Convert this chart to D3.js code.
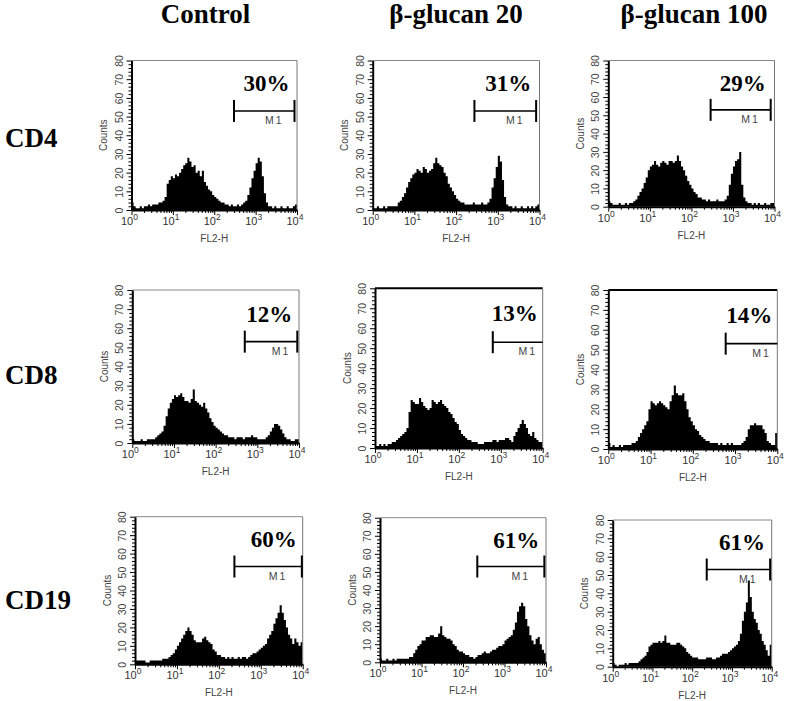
<!DOCTYPE html>
<html>
<head>
<meta charset="utf-8">
<script src="https://cdn.jsdelivr.net/npm/d3@7"></script>
<style>
  html, body { margin: 0; padding: 0; background: #fff; }
  svg { display: block; }
</style>
</head>
<body>
<svg id="chart" width="788" height="701"></svg>
<script>
// ---------------- DATA ----------------
const groups = ["Control", "β-glucan 20", "β-glucan 100"];
const markers = ["CD4", "CD8", "CD19"];
const xTickValues = [1, 10, 100, 1000, 10000];
const yTickValues = [0, 10, 20, 30, 40, 50, 60, 70, 80];
const binStepLog = 0.05; // decades per histogram channel (80 channels over 10^0..10^4)

// Counts per channel
const cd4Control = [
  4,2,1,1,2,1,2,2,3,2,
  3,3,3,4,4,5,7,14,16,18,
  17,19,18,20,22,24,25,28,26,23,
  24,20,21,18,21,15,13,11,10,8,
  7,6,5,4,4,3,3,2,3,2,
  2,3,2,3,4,5,8,12,17,21,
  25,28,26,18,9,4,2,2,1,2,
  1,1,2,1,1,2,1,1,2,3];
const cd4Glucan20 = [
  1,1,2,1,1,2,1,2,2,2,
  2,2,4,5,7,9,12,15,17,19,
  20,22,21,20,23,22,20,21,22,25,
  28,25,24,23,20,18,14,12,10,8,
  6,5,4,4,3,3,3,3,4,3,
  3,3,4,3,3,4,6,12,17,23,
  29,26,16,7,3,2,2,1,2,1,
  1,2,1,1,2,1,2,1,2,3];
const cd4Glucan100 = [
  3,2,1,1,1,2,1,1,2,1,
  2,2,3,4,6,8,10,13,16,20,
  22,23,25,23,22,24,25,24,23,25,
  25,24,25,28,25,22,20,17,14,12,
  10,8,7,5,5,4,4,3,4,3,
  3,3,4,3,3,3,4,6,12,18,
  22,25,26,30,12,5,3,2,2,1,
  2,1,2,1,1,2,1,1,2,2];
const cd8Control = [
  2,1,1,1,2,1,1,2,2,2,
  2,3,4,5,6,9,14,18,21,23,
  25,24,25,26,24,22,22,21,23,28,
  22,21,20,19,21,18,16,13,11,9,
  8,7,6,5,4,4,3,3,3,2,
  3,3,3,2,3,3,3,4,3,3,
  2,2,2,2,3,4,6,8,10,10,
  9,7,5,3,2,2,1,1,2,2];
const cd8Glucan20 = [
  1,1,2,1,2,1,2,2,3,3,
  4,5,6,7,8,10,18,24,23,22,
  22,25,23,21,20,19,20,24,23,22,
  23,24,22,21,20,18,17,15,13,12,
  9,7,6,5,4,4,3,3,3,2,
  2,2,3,3,3,3,4,4,3,4,
  4,4,5,5,4,3,6,8,10,12,
  14,12,10,7,6,8,5,4,3,3];
const cd8Glucan100 = [
  3,1,2,1,1,2,1,2,2,2,
  2,3,3,4,6,8,10,12,14,20,
  24,23,22,23,24,23,22,21,20,24,
  27,32,28,27,27,28,24,20,16,14,
  12,10,9,7,6,5,4,4,3,3,
  3,3,2,3,2,2,3,2,3,2,
  2,2,2,3,4,6,10,12,12,13,
  12,12,12,10,8,4,3,2,2,8];
const cd19Control = [
  2,2,2,2,2,1,1,2,2,2,
  2,2,2,3,3,3,4,5,6,8,
  10,12,14,16,18,20,18,16,13,12,
  12,12,14,15,13,12,11,8,7,5,
  5,4,4,3,4,3,4,3,3,4,
  3,4,4,3,4,5,6,6,7,8,
  9,10,11,14,16,18,22,25,28,32,
  28,24,20,16,14,11,14,12,10,12];
const cd19Glucan20 = [
  2,1,1,2,1,1,2,1,2,2,
  2,2,2,2,3,3,5,7,9,10,
  12,12,14,14,15,15,14,14,16,20,
  15,14,13,13,12,10,9,7,6,6,
  5,4,4,3,3,2,3,4,4,5,
  6,5,5,6,7,7,8,9,9,10,
  12,13,14,15,18,22,28,31,33,31,
  24,20,15,12,10,13,14,10,7,5];
const cd19Glucan100 = [
  2,1,0,1,1,1,2,1,2,2,
  2,2,2,3,4,5,6,8,11,12,
  13,13,13,14,13,14,17,13,13,12,
  12,12,13,13,12,11,10,8,7,6,
  5,5,5,4,4,4,4,5,5,5,
  4,4,5,5,6,7,7,7,8,9,
  10,11,12,14,18,25,30,35,47,38,
  30,26,24,20,18,14,12,9,6,12];

const histograms = [
  [cd4Control, cd4Glucan20, cd4Glucan100],
  [cd8Control, cd8Glucan20, cd8Glucan100],
  [cd19Control, cd19Glucan20, cd19Glucan100]
];
const percentLabels = [["30%", "31%", "29%"], ["12%", "13%", "14%"], ["60%", "61%", "61%"]];
const gateStart = [[300, 275, 290], [500, 645, 600], [235, 221, 232]];
const gateEnd   = [[8700, 8300, 8100], [9100, 10000, 10000], [9550, 9120, 9120]];
const gateName = "M1";
const xAxisTitle = "FL2-H";
const yAxisTitle = "Counts";

// ---------------- LAYOUT ----------------
const panelBoxes = [
  [{x0:131.5,x1:297,top:60.5,bottom:210},{x0:372.7,x1:539.5,top:60.5,bottom:210},{x0:608.3,x1:774.5,top:60.5,bottom:206.7}],
  [{x0:132.3,x1:299,top:290,bottom:443},{x0:375,x1:542.7,top:288.3,bottom:448},{x0:608.3,x1:777.3,top:290,bottom:449}],
  [{x0:135,x1:302.7,top:516.7,bottom:664.3},{x0:380,x1:546,top:517.7,bottom:662.3},{x0:612.7,x1:771.7,top:520,bottom:666.7}]
];
const titleX = [205.5, 456, 694];
const titleY = 23;
const rowLabelY = [146.7, 384, 609];

const serif = "'Liberation Serif','Times New Roman',serif";
const sans = "'Liberation Sans',Arial,Helvetica,sans-serif";

const svg = d3.select("#chart");

// Column titles
svg.selectAll("text.coltitle").data(groups).join("text")
  .attr("class", "coltitle")
  .attr("x", (d, i) => titleX[i]).attr("y", titleY)
  .attr("text-anchor", "middle")
  .style("font-family", serif).style("font-weight", "bold").style("font-size", "27px")
  .text(d => d);

// Row labels
svg.selectAll("text.rowlabel").data(markers).join("text")
  .attr("class", "rowlabel")
  .attr("x", 5).attr("y", (d, i) => rowLabelY[i])
  .style("font-family", serif).style("font-weight", "bold").style("font-size", "27px")
  .text(d => d);

const minorY = d3.range(0, 81, 2).filter(v => v % 10 !== 0);
const minorX = [];
for (let e = 0; e < 4; e++) for (let m = 2; m <= 9; m++) minorX.push(m * Math.pow(10, e));

histograms.forEach((row, r) => {
  row.forEach((counts, c) => {
    const b = panelBoxes[r][c];
    const x = d3.scaleLog().domain([1, 10000]).range([b.x0, b.x1]);
    const y = d3.scaleLinear().domain([0, 80]).range([b.bottom, b.top]);
    const g = svg.append("g");
    const clipId = `clip-${r}-${c}`;
    g.append("clipPath").attr("id", clipId).append("rect")
      .attr("x", b.x0).attr("y", b.top).attr("width", b.x1 - b.x0).attr("height", b.bottom - b.top);

    // Histogram
    const pts = counts.map((v, i) => ({ v: Math.pow(10, i * binStepLog), c: v }));
    pts.push({ v: 10000, c: counts[counts.length - 1] });
    const area = d3.area()
      .x(d => x(d.v)).y0(y(0)).y1(d => y(d.c))
      .curve(d3.curveStepAfter);
    g.append("path").datum(pts)
      .attr("clip-path", `url(#${clipId})`)
      .attr("d", area).attr("fill", "#000");

    // Frame (top and right)
    const heavy = (r === 1 && c > 0);
    g.append("line").attr("x1", b.x0).attr("x2", b.x1).attr("y1", b.top).attr("y2", b.top)
      .attr("stroke", heavy ? "#000" : "#888").attr("stroke-width", heavy ? 2 : 1);
    g.append("line").attr("x1", b.x1).attr("x2", b.x1).attr("y1", b.top).attr("y2", b.bottom)
      .attr("stroke", "#777").attr("stroke-width", 1);

    // Y axis minor ticks
    g.append("g").attr("transform", `translate(${b.x0},0)`)
      .call(d3.axisLeft(y).tickValues(minorY).tickSize(3).tickFormat(""))
      .call(s => s.select(".domain").remove())
      .call(s => s.selectAll("line").attr("stroke", "#000"));
    // Y axis major
    g.append("g").attr("transform", `translate(${b.x0},0)`)
      .call(d3.axisLeft(y).tickValues(yTickValues).tickSize(5).tickSizeOuter(0).tickFormat(d3.format("d")))
      .call(s => s.select(".domain").attr("stroke", "#000").attr("stroke-width", 2))
      .call(s => s.selectAll(".tick line").attr("stroke", "#000"))
      .call(s => s.selectAll("text")
        .attr("transform", "rotate(-90)").attr("x", 0).attr("y", -9).attr("dy", 0)
        .attr("text-anchor", "middle")
        .style("font-family", sans).style("font-size", "10.5px").attr("fill", "#444"));

    // X axis minor
    g.append("g").attr("transform", `translate(0,${b.bottom})`)
      .call(d3.axisBottom(x).tickValues(minorX).tickSize(3).tickFormat(""))
      .call(s => s.select(".domain").remove())
      .call(s => s.selectAll("line").attr("stroke", "#000"));
    // X axis major
    g.append("g").attr("transform", `translate(0,${b.bottom})`)
      .call(d3.axisBottom(x).tickValues(xTickValues).tickSize(5).tickSizeOuter(0).tickFormat(""))
      .call(s => s.select(".domain").attr("stroke", "#000").attr("stroke-width", 2))
      .call(s => s.selectAll(".tick line").attr("stroke", "#000"));
    // X labels with superscripts
    const xl = g.selectAll("text.xl").data(xTickValues).join("text")
      .attr("class", "xl")
      .attr("x", d => x(d) - 2).attr("y", b.bottom + 15)
      .attr("text-anchor", "middle")
      .style("font-family", sans).style("font-size", "11px").attr("fill", "#333");
    xl.append("tspan").text("10");
    xl.append("tspan").attr("dy", -5).style("font-size", "8.5px").text(d => String(Math.round(Math.log10(d))));

    // Axis titles
    g.append("text").attr("x", (b.x0 + b.x1) / 2).attr("y", b.bottom + 32)
      .attr("text-anchor", "middle")
      .style("font-family", sans).style("font-size", "10px").attr("fill", "#444")
      .text(xAxisTitle);
    const cy = (b.top + b.bottom) / 2;
    g.append("text")
      .attr("transform", `translate(${b.x0 - 24.5},${cy}) rotate(-90)`)
      .attr("text-anchor", "middle")
      .style("font-family", sans).style("font-size", "10px").attr("fill", "#444")
      .text(yAxisTitle);

    // Gate M1
    const gs = x(gateStart[r][c]), ge = x(gateEnd[r][c]);
    const gy = y(53);
    g.append("line").attr("x1", gs).attr("x2", ge).attr("y1", gy).attr("y2", gy)
      .attr("stroke", "#000").attr("stroke-width", 1.6);
    g.append("line").attr("x1", gs).attr("x2", gs).attr("y1", gy - 11).attr("y2", gy + 11)
      .attr("stroke", "#000").attr("stroke-width", 2);
    if (gateEnd[r][c] < 10000) {
      g.append("line").attr("x1", ge).attr("x2", ge).attr("y1", gy - 11).attr("y2", gy + 11)
        .attr("stroke", "#000").attr("stroke-width", 2);
    }
    g.append("text").attr("x", (gs + ge) / 2 + 10).attr("y", gy + 13)
      .attr("text-anchor", "middle")
      .style("font-family", sans).style("font-size", "10.5px").style("letter-spacing", "2px")
      .attr("fill", "#444").text(gateName);

    // Percentage
    g.append("text").attr("x", ge - 5).attr("y", y(63.5))
      .attr("text-anchor", "end")
      .style("font-family", serif).style("font-weight", "bold").style("font-size", "23px")
      .text(percentLabels[r][c]);
  });
});
</script>
</body>
</html>
